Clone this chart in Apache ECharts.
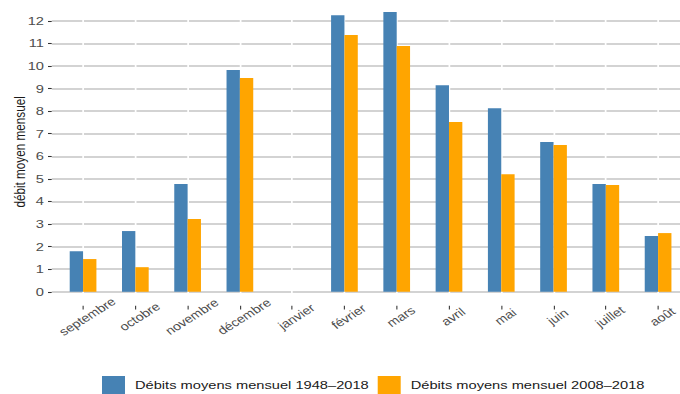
<!DOCTYPE html>
<html>
<head>
<meta charset="utf-8">
<script src="https://cdn.jsdelivr.net/npm/echarts@6/dist/echarts.min.js"></script>
<style>
html,body{margin:0;padding:0;background:#fff;overflow:hidden;}
#wrap{width:680px;height:394px;overflow:hidden;}
/* the reference is drawn 544px wide and stretched horizontally to 680px */
#chart{width:544px;height:394px;transform:scaleX(1.25);transform-origin:0 0;}
</style>
</head>
<body>
<div id="wrap"><div id="chart"></div></div>
<script>
var months = ['septembre','octobre','novembre','décembre','janvier','février','mars','avril','mai','juin','juillet','août'];
var debits1948 = [1.80, 2.69, 4.77, 9.82, null, 12.25, 12.39, 9.15, 8.13, 6.63, 4.77, 2.47];
var debits2008 = [1.45, 1.09, 3.22, 9.47, null, 11.37, 10.88, 7.52, 5.21, 6.50, 4.73, 2.60];
var seriesNames = ['Débits moyens mensuel 1948–2018', 'Débits moyens mensuel 2008–2018'];
var yTicks = [0,1,2,3,4,5,6,7,8,9,10,11,12];
var xTicks = months.map(function(m, i){ return i; });

var font = 'Liberation Sans, Arial, Helvetica, sans-serif';
var chart = echarts.init(document.getElementById('chart'), null, {renderer:'svg'});
function toPairs(arr){ return arr.map(function(v,i){ return [i, v]; }); }

chart.setOption({
  animation: false,
  textStyle: {fontFamily: font},
  grid: {left: 41.36, top: -2, width: 510.2, height: 307.8, containLabel: false, outerBoundsMode: 'none'},
  legend: {
    left: 81.6, top: 376, padding: 0, itemWidth: 18.4, itemHeight: 18.4, itemGap: 7.2,
    icon: 'rect',
    data: seriesNames,
    textStyle: {fontSize: 11.73, color: '#1a1a1a', fontFamily: font, padding: [5,0,0,3]}
  },
  xAxis: {
    type: 'value', min: -0.6, max: 11.6, z: 1,
    axisLine: {show: false, onZero: false},
    axisTick: {show: true, customValues: xTicks, length: 3.7, lineStyle: {color: '#333333', width: 0.86}},
    axisLabel: {
      customValues: xTicks, rotate: 38, align: 'center', verticalAlign: 'top', margin: 6.5,
      fontSize: 11.4, color: '#4d4d4d', fontFamily: font,
      formatter: function(v){ return months[Math.round(v)]; }
    },
    splitLine: {show: true, lineStyle: {color: '#ffffff', width: 1.36}}
  },
  yAxis: {
    type: 'value', min: -0.62, max: 13.01,
    name: 'débit moyen mensuel', nameLocation: 'middle', nameGap: 19.5, nameMoveOverlap: false,
    nameTextStyle: {fontSize: 11.73, color: '#1a1a1a', fontFamily: font},
    axisLine: {show: false, onZero: false},
    axisTick: {show: true, customValues: yTicks, length: 2.96, lineStyle: {color: '#333333', width: 1.07}},
    axisLabel: {customValues: yTicks, margin: 6.2, fontSize: 11.73, color: '#4d4d4d', fontFamily: font},
    splitLine: {show: true, lineStyle: {color: '#c4c4c4', width: 1.6}}
  },
  series: [
    {name: seriesNames[0], type: 'bar', data: toPairs(debits1948), barWidth: 10.68, barGap: '0%',
     itemStyle: {color: '#4682b4'}, z: 3},
    {name: seriesNames[1], type: 'bar', data: toPairs(debits2008), barWidth: 10.68, barGap: '0%',
     itemStyle: {color: '#ffa500'}, z: 3}
  ]
});
</script>
</body>
</html>
